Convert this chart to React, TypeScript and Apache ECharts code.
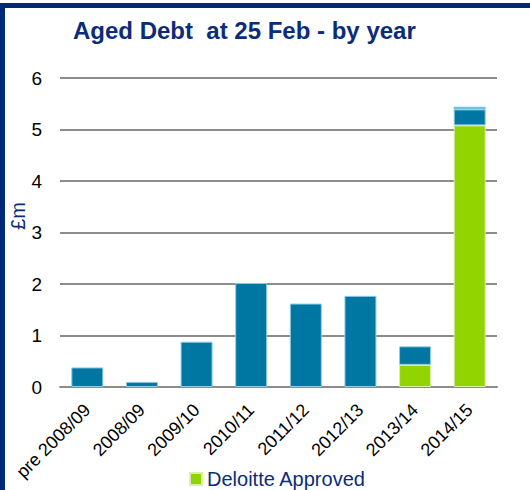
import React, { useEffect, useRef } from "react";
import * as echarts from "echarts";

const categories = ["pre 2008/09", "2008/09", "2009/10", "2010/11", "2011/12", "2012/13", "2013/14", "2014/15"];
const deloitteApproved = [null, null, null, null, null, null, 0.43, 5.08];
const otherDebt = [0.38, 0.1, 0.88, 2.02, 1.62, 1.77, 0.36, 0.31];
const topSlice = [null, null, null, null, null, null, null, 0.05];
const yTicks = [0, 1, 2, 3, 4, 5, 6];

const FONT = "Liberation Sans, Arial, sans-serif";
const NAVY = "#0b2c7a";

export default function App() {
  const ref = useRef<HTMLDivElement>(null);
  useEffect(() => {
    const chart = echarts.init(ref.current!, null, { renderer: "svg" });
    chart.setOption({
      animation: false,
      backgroundColor: "#ffffff",
      title: {
        text: "Aged Debt  at 25 Feb - by year",
        left: 68,
        top: 13,
        textStyle: { fontFamily: FONT, fontSize: 24, fontWeight: "bold", color: NAVY },
      },
      legend: {
        data: ["Deloitte Approved"],
        left: 184,
        top: 464,
        itemWidth: 12,
        itemHeight: 12,
        icon: "rect",
        textStyle: { fontFamily: FONT, fontSize: 20, lineHeight: 20, color: NAVY },
      },
      grid: { left: 60, right: 33, top: 78, bottom: 103, containLabel: false },
      xAxis: {
        type: "category",
        data: categories,
        axisTick: { show: false },
        axisLine: { lineStyle: { color: "#8c8c8c", width: 2 } },
        axisLabel: {
          rotate: 45,
          margin: 20,
          padding: [14, 0, 0, 0],
          fontFamily: FONT,
          fontSize: 18,
          color: "#000",
          interval: 0,
        },
      },
      yAxis: {
        type: "value",
        min: yTicks[0],
        max: yTicks[yTicks.length - 1],
        interval: 1,
        axisLine: { show: false },
        axisTick: { show: false },
        splitLine: { lineStyle: { color: "#8c8c8c", width: 2 } },
        axisLabel: { margin: 18, fontFamily: FONT, fontSize: 19, color: "#000" },
      },
      graphic: [
        {
          type: "rect",
          shape: { x: 2.5, y: 5.5, width: 700, height: 700 },
          style: { fill: "none", stroke: "#002878", lineWidth: 5 },
          z: 100,
        },
        {
          type: "text",
          x: 18,
          y: 216,
          rotation: Math.PI / 2,
          style: {
            text: "£m",
            fontFamily: FONT,
            fontSize: 20,
            fill: NAVY,
            align: "center",
            verticalAlign: "middle",
          },
        },
      ],
      series: [
        {
          name: "Deloitte Approved",
          type: "bar",
          stack: "debt",
          barWidth: 32,
          data: deloitteApproved,
          itemStyle: { color: "#92d400", borderColor: "#d8f0a8", borderWidth: 1 },
        },
        {
          name: "Other",
          type: "bar",
          stack: "debt",
          barWidth: 32,
          data: otherDebt,
          itemStyle: { color: "#0077a3", borderColor: "#8fcde3", borderWidth: 1 },
        },
        {
          name: "Top",
          type: "bar",
          stack: "debt",
          barWidth: 32,
          data: topSlice,
          itemStyle: { color: "#6cc4e6" },
        },
      ],
    });
    return () => chart.dispose();
  }, []);
  return <div ref={ref} style={{ position: "fixed", left: 0, top: 0, width: 530, height: 490 }} />;
}
